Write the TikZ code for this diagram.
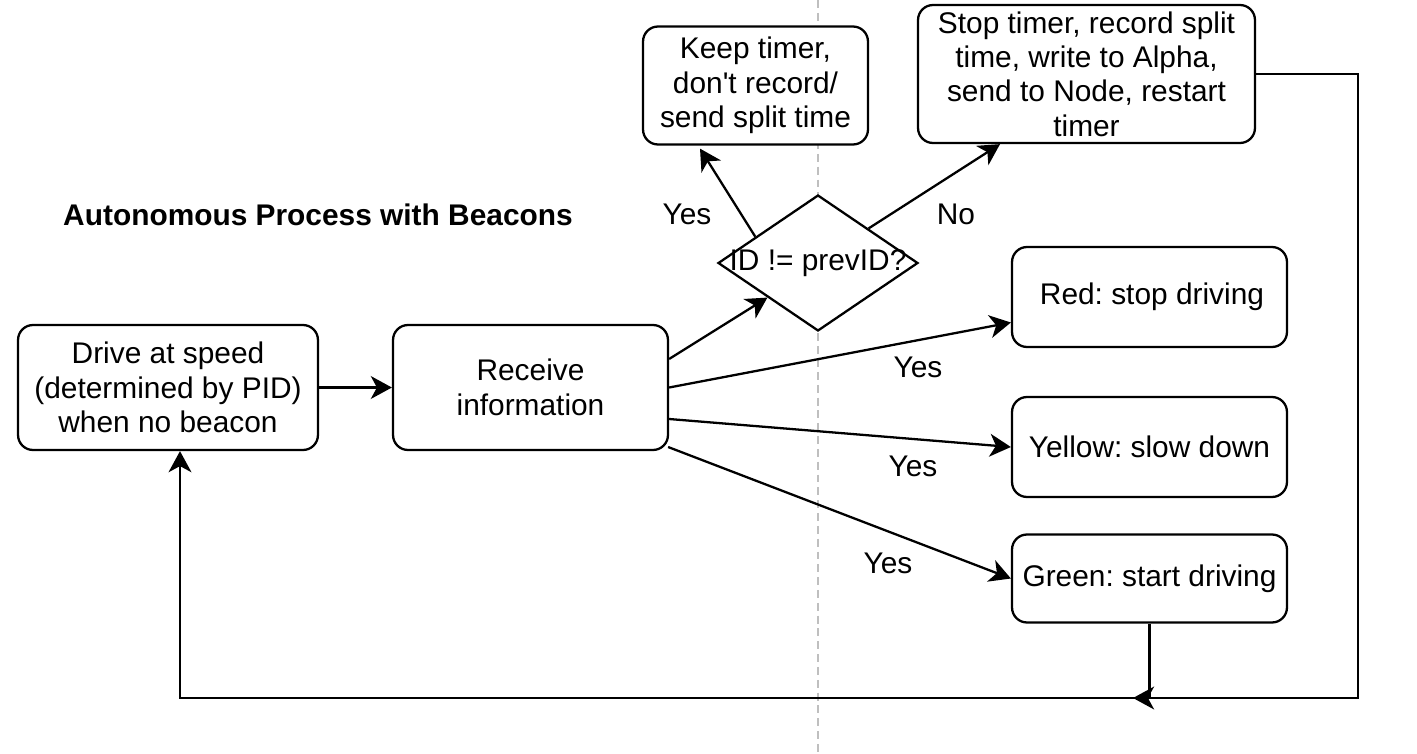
\documentclass[tikz,border=0pt]{standalone}
\usepackage{fontspec}
\setmainfont{Liberation Sans}
\usetikzlibrary{calc,shapes.geometric,arrows.meta}

\begin{document}
\frenchspacing
\begin{tikzpicture}[x=0.02cm,y=-0.02cm,
  box/.style={draw,fill=white,rounded corners=0.3cm,line width=\lw,align=center,inner sep=2pt,font=\fs},
  decision/.style={draw,fill=white,diamond,line width=\lw,minimum width=4cm,minimum height=2.72cm,inner sep=0pt},
  lbl/.style={font=\fs},
  arr/.style={line width=\lw,-{Stealth[length=12pt,width=13pt,inset=3.5pt]}}]
%
\def\lw{1.3pt}
\def\fs{\fontsize{17}{19.6}\selectfont}
%
\useasboundingbox (0,0) rectangle (1417,754);
%
% dashed separator
\draw[gray!50,line width=1.2pt,dash pattern=on 4.5pt off 2.8pt] (818,0) -- (818,754);
%
\node[lbl,font=\fs\bfseries] (title) at (318,215) {Autonomous Process with Beacons};
%
\node[box,minimum width=6cm,minimum height=2.5cm] (drive) at (168,387.5) {Drive at speed\\(determined by PID)\\when no beacon};
\node[box,minimum width=5.5cm,minimum height=2.5cm] (recv) at (530.5,387.5) {Receive\\information};
\node[decision,label={[lbl]center:{ID != prevID?}}] (dia) at (818,263) {};
\node[box,minimum width=4.5cm,minimum height=2.36cm] (keep) at (755.5,85.5) {Keep timer,\\don\textquotesingle t record/\\send split time};
\node[box,minimum width=6.74cm,minimum height=2.76cm,inner sep=1pt] (stop) at (1086.5,74) {Stop timer, record split\\time, write to Alpha,\\send to Node, restart\\timer};
\node[box,minimum width=5.5cm,minimum height=2cm] (red) at (1149.5,297) {\hspace{0.1cm}Red: stop driving};
\node[box,minimum width=5.5cm,minimum height=2cm] (yellow) at (1149.5,447) {Yellow: slow down};
\node[box,minimum width=5.5cm,minimum height=1.76cm] (green) at (1149.5,578.5) {Green: start driving};
%
\node[lbl] (yes1) at (687,214) {Yes};
\node[lbl] (no1) at (956,214) {No};
\node[lbl] (yes2) at (918,367) {Yes};
\node[lbl] (yes3) at (913,466) {Yes};
\node[lbl] (yes4) at (888,563) {Yes};
%
\coordinate (cR) at (1358,698);
\coordinate (cJ) at (1133,698);
\coordinate (cL) at (180,698);
%
\draw[arr] (drive) -- (recv);
\draw[arr] ($(recv.east)+(0,-28.5)$) -- (dia.south west);
\draw[arr] ($(dia.west)!0.38!(dia.north)$) -- ($(keep.south)+(-55.5,3)$);
\draw[arr] (dia.north east) -- ($(stop.south)+(-86.5,0)$);
\draw[arr] (recv.east) -- ($(red.west)+(0,25.5)$);
\draw[arr] ($(recv.east)+(0,31.5)$) -- (yellow.west);
\draw[arr] ($(recv.east)+(-1,59.5)$) -- (green.west);
%
\draw[arr] (stop.east) -| (cR) -- (cJ);
\draw[arr] (green.south) |- (cL) -- ($(drive.south)+(12,0)$);
%
\end{tikzpicture}
\end{document}
